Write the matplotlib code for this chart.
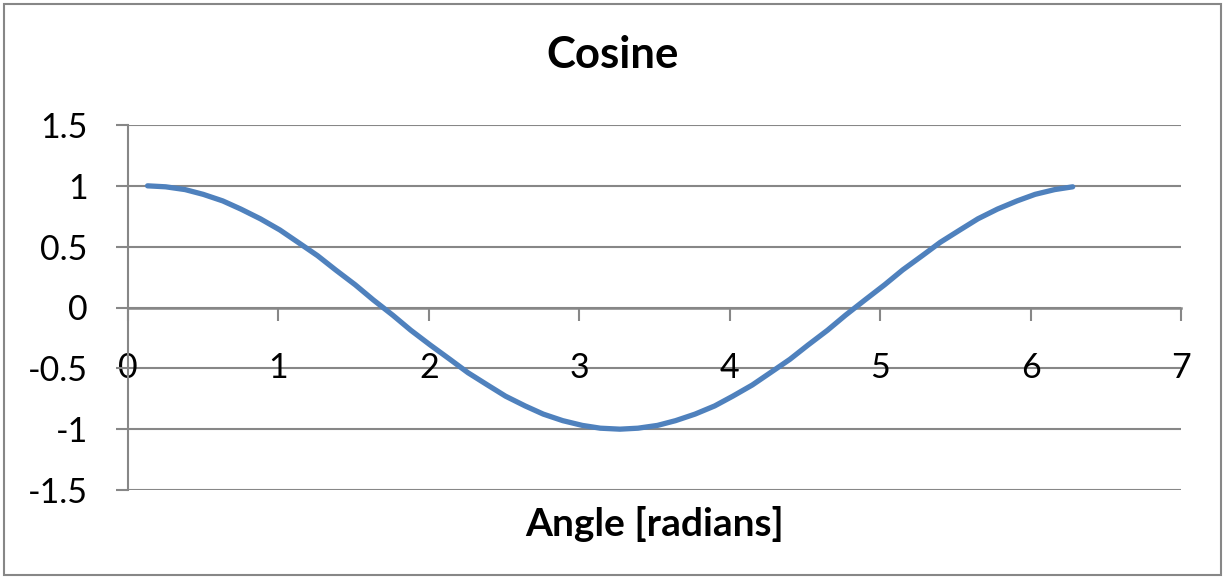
import matplotlib
matplotlib.use('Agg')
import matplotlib.pyplot as plt
from matplotlib.patches import Rectangle

plt.rcParams['font.family'] = ['Lato', 'DejaVu Sans']
plt.rcParams['axes.unicode_minus'] = False

# angle samples and cosine values (50 points, one sample lag)
angle = [0.13, 0.25, 0.38, 0.50, 0.63, 0.75, 0.88, 1.01, 1.13, 1.26,
         1.38, 1.51, 1.63, 1.76, 1.88, 2.01, 2.14, 2.26, 2.39, 2.51,
         2.64, 2.76, 2.89, 3.02, 3.14, 3.27, 3.39, 3.52, 3.64, 3.77,
         3.90, 4.02, 4.15, 4.27, 4.40, 4.52, 4.65, 4.77, 4.90, 5.03,
         5.15, 5.28, 5.40, 5.53, 5.65, 5.78, 5.91, 6.03, 6.16, 6.28]
cosine = [1.000, 0.992, 0.969, 0.930, 0.876, 0.809, 0.729, 0.637, 0.536, 0.426,
          0.309, 0.187, 0.063, -0.063, -0.187, -0.309, -0.426, -0.536, -0.637, -0.729,
          -0.809, -0.876, -0.930, -0.969, -0.992, -1.000, -0.992, -0.969, -0.930, -0.876,
          -0.809, -0.729, -0.637, -0.536, -0.426, -0.309, -0.187, -0.063, 0.063, 0.187,
          0.309, 0.426, 0.536, 0.637, 0.729, 0.809, 0.876, 0.930, 0.969, 0.992]
xticks = [0, 1, 2, 3, 4, 5, 6, 7]
yticks = [-1.5, -1, -0.5, 0, 0.5, 1, 1.5]
ytick_labels = ['-1.5', '-1', '-0.5', '0', '0.5', '1', '1.5']

W, H = 1225, 579
grey = '#878787'
fig = plt.figure(figsize=(W / 100, H / 100), dpi=100)
ax = fig.add_axes([128 / W, 1 - 490 / H, (1181 - 128) / W, (490 - 125) / H])

ax.plot(angle, cosine, color='#4f81bd', lw=3.8, solid_capstyle='round', zorder=3)

ax.set_xlim(0, 7)
ax.set_ylim(-1.5, 1.5)
ax.set_xticks(xticks)
ax.set_yticks(yticks)
ax.set_yticklabels(ytick_labels)

for y in yticks:
    ax.axhline(y, color=grey, lw=1.5, zorder=1)

for s in ['top', 'right']:
    ax.spines[s].set_visible(False)
ax.spines['bottom'].set_position(('data', 0))
ax.spines['bottom'].set_color(grey)
ax.spines['bottom'].set_linewidth(1.8)
ax.spines['left'].set_color(grey)
ax.spines['left'].set_linewidth(1.5)

ax.tick_params(axis='x', direction='out', length=9, width=1.5, color=grey,
               labelsize=24.5, pad=23)
ax.tick_params(axis='y', direction='out', length=9, width=1.5, color=grey,
               labelsize=24.5, pad=20)

fig.text(612.5 / W, 1 - 55 / H, 'Cosine', ha='center', va='center',
         fontsize=31.5, fontweight='bold')
fig.text(655 / W, 1 - 524 / H, 'Angle [radians]', ha='center', va='center',
         fontsize=28, fontweight='bold')

fig.patches.append(Rectangle((4 / W, 4 / H), (W - 8) / W, (H - 8) / H,
                             transform=fig.transFigure, fill=False,
                             edgecolor=grey, lw=1.5))

fig.savefig('out.png', dpi=100)
